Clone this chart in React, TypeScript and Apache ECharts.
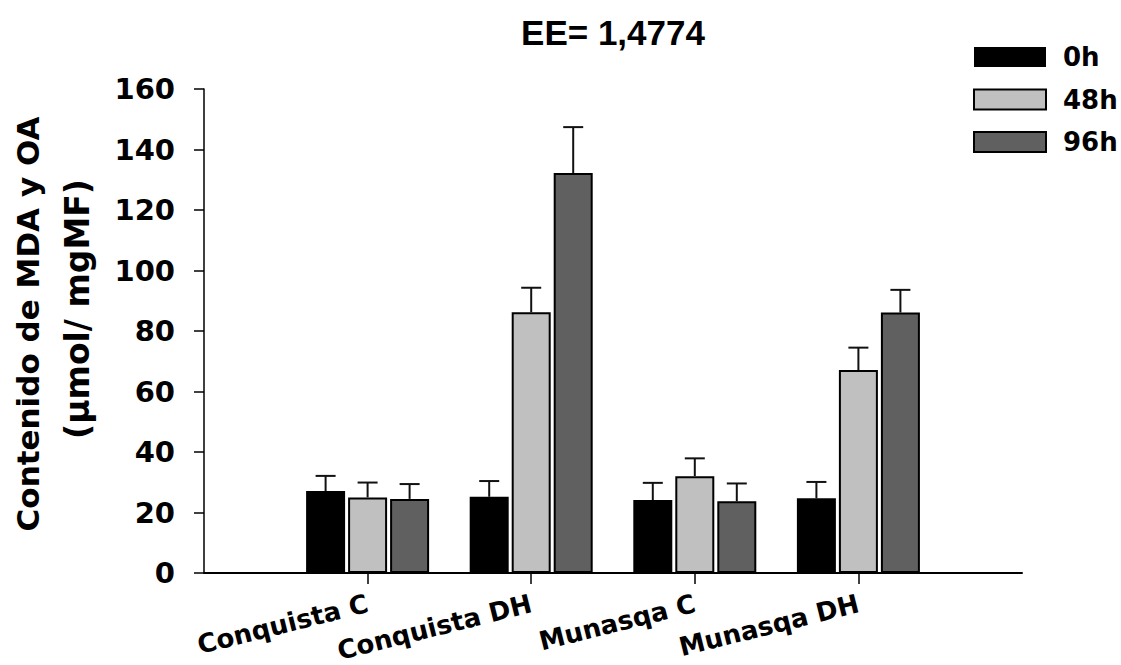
import React, { useEffect, useRef } from "react";
import * as echarts from "echarts";

const categories = ["Conquista C", "Conquista DH", "Munasqa C", "Munasqa DH"];
const seriesNames = ["0h", "48h", "96h"];
const values0h = [27.1, 25.2, 24.1, 24.7];
const values48h = [25.0, 86.2, 32.0, 67.1];
const values96h = [24.5, 132.2, 23.7, 86.1];
const errTop0h = [32.1, 30.4, 29.8, 30.1];
const errTop48h = [29.9, 94.3, 37.9, 74.5];
const errTop96h = [29.4, 147.4, 29.6, 93.6];
const yTicks = { min: 0, max: 160, interval: 20 };
const titleText = "EE= 1,4774";
const yNameLine1 = "Contenido de MDA y OA";
const yNameLine2 = "(µmol/ mgMF)";

const colors = ["#000000", "#c0c0c0", "#606060"];
const BAR_W = 39;
const BAR_STEP = 42;
const SIDE_FONT = "DejaVu Sans";

export default function App() {
  const ref = useRef<HTMLDivElement>(null);
  useEffect(() => {
    if (!ref.current) return;
    const chart = echarts.init(ref.current, undefined, { renderer: "svg" });
    const axisCats = ["", ...categories, ""];
    const vals = [values0h, values48h, values96h];
    const errs = [errTop0h, errTop48h, errTop96h];
    const pad = (a: number[]) => [null, ...a, null];

    const barSeries = seriesNames.map((name, i) => ({
      name,
      type: "bar",
      data: pad(vals[i]),
      barWidth: BAR_W,
      barGap: "7.7%",
      itemStyle: {
        color: colors[i],
        borderColor: "#000",
        borderWidth: i === 0 ? 0 : 2,
      },
      z: 2,
    }));

    const errSeries = seriesNames.map((name, i) => ({
      name: "err" + name,
      type: "custom",
      data: categories.map((_, c) => [c + 1, vals[i][c], errs[i][c]]),
      z: 3,
      renderItem: (params: any, api: any) => {
        const base = api.coord([api.value(0), api.value(1)]);
        const top = api.coord([api.value(0), api.value(2)]);
        const x = base[0] + (i - 1) * BAR_STEP;
        const style = { stroke: "#111", lineWidth: 2 };
        return {
          type: "group",
          children: [
            { type: "line", shape: { x1: x, y1: base[1], x2: x, y2: top[1] }, style },
            { type: "line", shape: { x1: x - 10, y1: top[1], x2: x + 10, y2: top[1] }, style },
          ],
        };
      },
    }));

    chart.setOption({
      animation: false,
      backgroundColor: "#fff",
      grid: { left: 204, right: 99, top: 89, bottom: 92, containLabel: false },
      legend: {
        data: seriesNames,
        orient: "vertical",
        left: 973,
        top: 44,
        padding: 0,
        itemWidth: 72,
        itemHeight: 20,
        itemGap: 16.5,
        icon: "rect",
        textStyle: {
          fontFamily: SIDE_FONT,
          fontWeight: "bold",
          fontSize: 26,
          color: "#000",
          padding: [0, 0, 0, 12],
        },
      },
      xAxis: {
        type: "category",
        data: axisCats,
        boundaryGap: false,
        axisLine: { lineStyle: { color: "#000", width: 2 } },
        axisTick: {
          length: 11,
          lineStyle: { color: "#000", width: 1.5 },
          interval: (idx: number) => idx >= 1 && idx <= categories.length,
        },
        axisLabel: {
          interval: 0,
          rotate: 14,
          margin: 30,
          fontFamily: SIDE_FONT,
          fontWeight: "bold",
          fontSize: 26,
          color: "#000",
        },
        splitLine: { show: false },
      },
      yAxis: {
        type: "value",
        min: yTicks.min,
        max: yTicks.max,
        interval: yTicks.interval,
        axisLine: { show: true, lineStyle: { color: "#000", width: 1.5 } },
        axisTick: { show: true, length: 10, lineStyle: { color: "#000", width: 1.5 } },
        axisLabel: {
          margin: 29,
          fontFamily: SIDE_FONT,
          fontWeight: "bold",
          fontSize: 29,
          color: "#000",
        },
        splitLine: { show: false },
      },
      graphic: [
        {
          type: "text",
          x: 613,
          y: 32,
          style: {
            text: titleText,
            font: "bold 35px 'Liberation Sans', Arial, sans-serif",
            fill: "#000",
            textAlign: "center",
            textVerticalAlign: "middle",
          },
        },
        {
          type: "text",
          x: 28,
          y: 324,
          rotation: Math.PI / 2,
          style: {
            text: yNameLine1,
            font: "bold 31px 'DejaVu Sans', sans-serif",
            fill: "#000",
            textAlign: "center",
            textVerticalAlign: "middle",
          },
        },
        {
          type: "text",
          x: 77,
          y: 309,
          rotation: Math.PI / 2,
          style: {
            text: yNameLine2,
            font: "bold 33px 'DejaVu Sans', sans-serif",
            fill: "#000",
            textAlign: "center",
            textVerticalAlign: "middle",
          },
        },
      ],
      series: [...barSeries, ...errSeries],
    });
    return () => chart.dispose();
  }, []);
  return (
    <div
      ref={ref}
      style={{ position: "fixed", left: 0, top: 0, width: 1121, height: 665 }}
    />
  );
}
